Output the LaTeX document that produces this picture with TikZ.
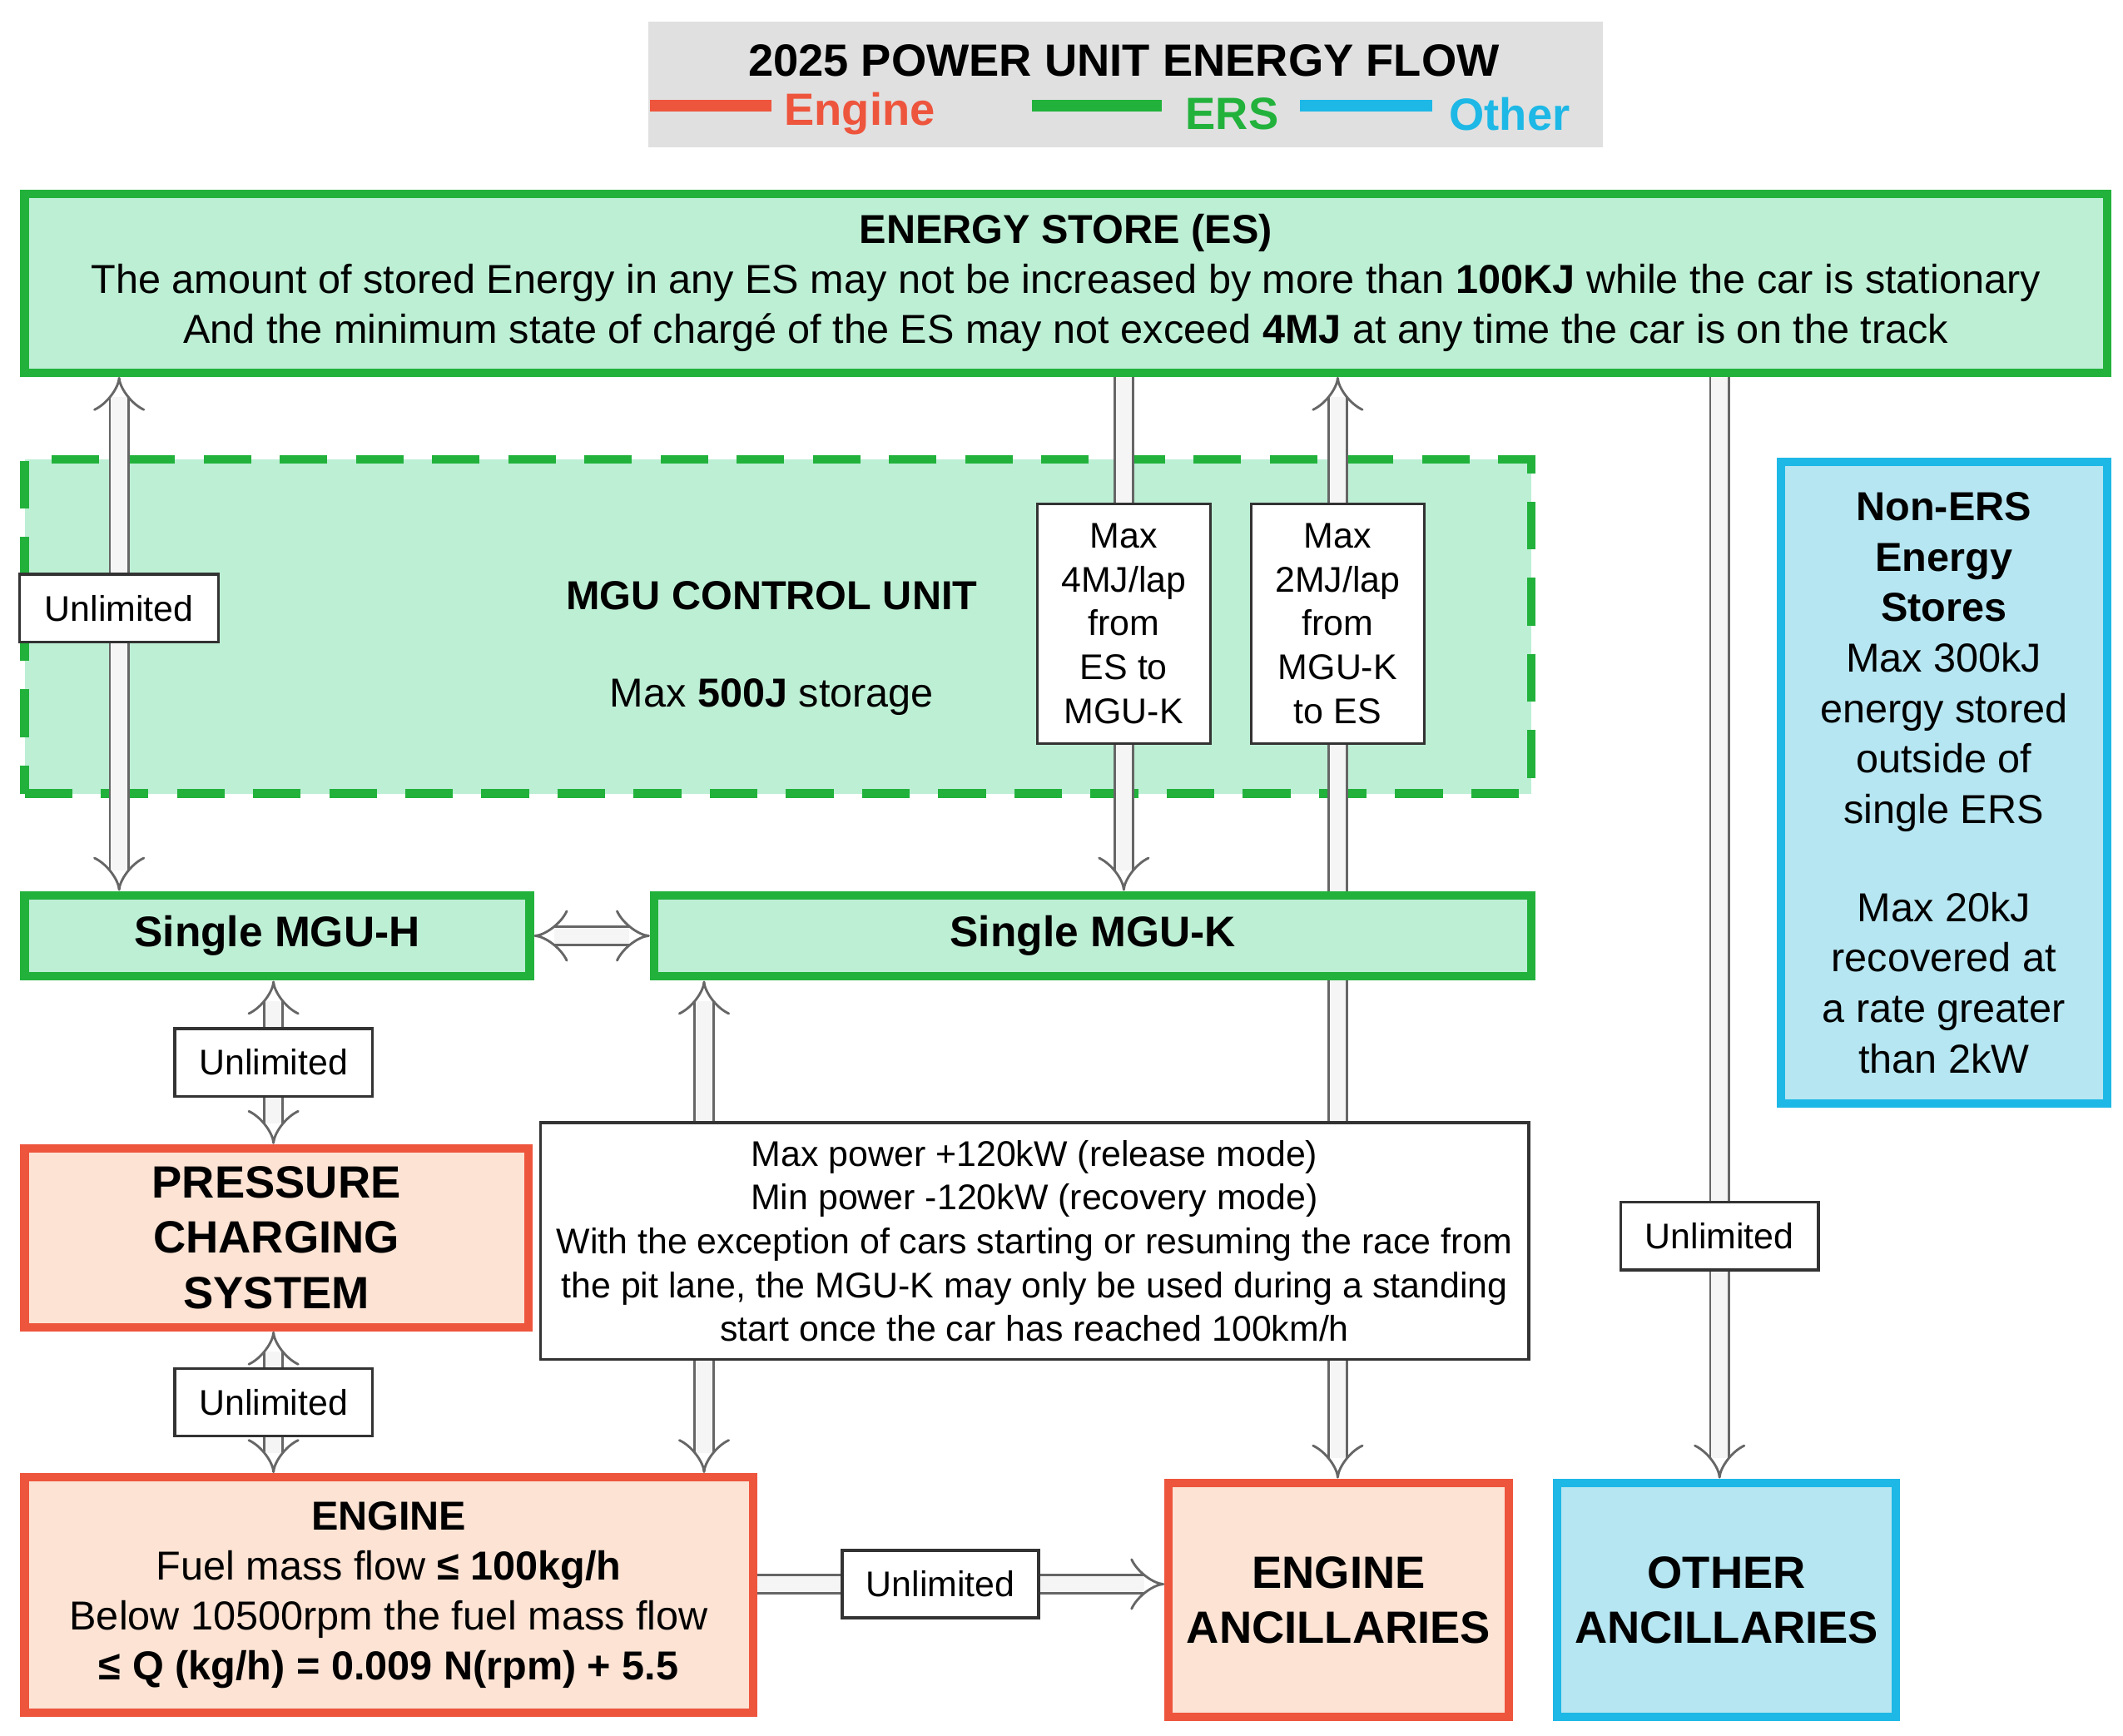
\documentclass[tikz,border=0pt]{standalone}
\usepackage{fontspec}
\setmainfont{Liberation Sans}
\usetikzlibrary{arrows.meta,positioning}
\definecolor{ersgreen}{HTML}{22B23C}
\definecolor{ersfill}{HTML}{BDEFD5}
\definecolor{engred}{HTML}{EE553D}
\definecolor{engfill}{HTML}{FCE3D4}
\definecolor{othcyan}{HTML}{1DB8E6}
\definecolor{othfill}{HTML}{B6E6F1}

\begin{document}
\begin{tikzpicture}[
  x=1cm,y=1cm,
  every node/.style={inner sep=2pt,align=center,font=\fontsize{8.5}{10.5}\selectfont},
  ers/.style={draw=ersgreen,line width=1.8pt,fill=ersfill,anchor=north west},
  eng/.style={draw=engred,line width=1.8pt,fill=engfill,anchor=north west},
  oth/.style={draw=othcyan,line width=1.8pt,fill=othfill,anchor=north west},
  lbl/.style={draw=black!80,fill=white,line width=0.6pt,font=\fontsize{7.5}{9.2}\selectfont},
  flow/.style={line width=0.5pt,draw=black!60,double=black!4,double distance=0.12cm,-{Implies}},
  flow2/.style={flow,{Implies}-{Implies}},
  ]
  \useasboundingbox (0,0) rectangle (15.68,-12.82);
  % legend
  \node[fill=black!12,minimum width=7.05cm,minimum height=0.93cm,anchor=north west] (legend) at (4.78,-0.15) {};
  \node[font=\bfseries\fontsize{9.5}{11}\selectfont] (ttl) at (8.30,-0.45) {2025 POWER UNIT ENERGY FLOW};
  \draw[engred,line width=2.5pt] (4.80,-0.78) -- (5.70,-0.78);
  \node[text=engred,font=\bfseries\fontsize{9.5}{11}\selectfont] (lengine) at (6.35,-0.84) {Engine};
  \draw[ersgreen,line width=2.5pt] (7.62,-0.78) -- (8.58,-0.78);
  \node[text=ersgreen,font=\bfseries\fontsize{9.5}{11}\selectfont] (lers) at (9.10,-0.84) {ERS};
  \draw[othcyan,line width=2.5pt] (9.60,-0.78) -- (10.58,-0.78);
  \node[text=othcyan,font=\bfseries\fontsize{9.5}{11}\selectfont] (lother) at (11.15,-0.84) {Other};

  % boxes
  \node[ers,minimum width=15.38cm,minimum height=1.32cm] (es) at (0.15,-1.40) {};
  \node (estext) at (es.center) {\textbf{ENERGY STORE (ES)}\\
    The amount of stored Energy in any ES may not be increased by more than \textbf{100KJ} while the car is stationary\\
    And the minimum state of chargé of the ES may not exceed \textbf{4MJ} at any time the car is on the track};
  \node[ers,draw=ersgreen,dashed,dash pattern=on 10pt off 6pt,minimum width=11.13cm,minimum height=2.47cm] (mcu) at (0.15,-3.36) {};
  \node (mcutitle) at (5.70,-4.40) {\textbf{MGU CONTROL UNIT}};
  \node (mcustore) at (5.70,-5.15) {Max \textbf{500J} storage};
  \node[oth,minimum width=2.41cm,minimum height=4.74cm] (nonERS) at (13.12,-3.38) {};
  \node[font=\fontsize{8.5}{10.6}\selectfont] (nonERStext) at (nonERS.center) {\textbf{Non-ERS}\\\textbf{Energy}\\\textbf{Stores}\\Max 300kJ\\energy stored\\outside of\\single ERS\\[10pt]Max 20kJ\\recovered at\\a rate greater\\than 2kW};
  \node[ers,minimum width=3.73cm,minimum height=0.60cm,font=\bfseries\fontsize{9}{11}\selectfont] (mguh) at (0.15,-6.58) {Single MGU-H};
  \node[ers,minimum width=6.48cm,minimum height=0.60cm,font=\bfseries\fontsize{9}{11}\selectfont] (mguk) at (4.80,-6.58) {Single MGU-K};
  \node[eng,minimum width=3.72cm,minimum height=1.32cm,font=\bfseries\fontsize{9.5}{11.6}\selectfont] (pcs) at (0.15,-8.45) {PRESSURE\\CHARGING\\SYSTEM};
  \node[eng,minimum width=5.38cm,minimum height=1.74cm] (engine) at (0.15,-10.88) {};
  \node (enginetext) at (engine.center) {\textbf{ENGINE}\\Fuel mass flow \textbf{≤ 100kg/h}\\Below 10500rpm the fuel mass flow\\\textbf{≤ Q (kg/h) = 0.009 N(rpm) + 5.5}};
  \node[eng,minimum width=2.51cm,minimum height=1.73cm,font=\bfseries\fontsize{9.5}{11.6}\selectfont] (engAnc) at (8.60,-10.92) {ENGINE\\ANCILLARIES};
  \node[oth,minimum width=2.50cm,minimum height=1.73cm,font=\bfseries\fontsize{9.5}{11.6}\selectfont] (othAnc) at (11.47,-10.92) {OTHER\\ANCILLARIES};

  % flows
  \draw[flow2] (0.88,0 |- es.south) -- node[lbl,pos=0.45,minimum width=1.47cm,minimum height=0.50cm] (l1) {Unlimited} (0.88,0 |- mguh.north);
  \draw[flow] (8.30,0 |- es.south) -- node[lbl,pos=0.48,minimum width=1.28cm,minimum height=1.77cm] (l2) {Max\\4MJ/lap\\from\\ES to\\MGU-K} (8.30,0 |- mguk.north);
  \draw[flow] (9.88,0 |- mguk.north) -- node[lbl,pos=0.52,minimum width=1.28cm,minimum height=1.77cm] (l3) {Max\\2MJ/lap\\from\\MGU-K\\to ES} (9.88,0 |- es.south);
  \draw[flow] (12.70,0 |- es.south) -- node[lbl,pos=0.78,minimum width=1.46cm,minimum height=0.50cm] (l4) {Unlimited} (12.70,0 |- othAnc.north);
  \draw[flow2] (mguh.east) -- (mguk.west);
  \draw[flow2] (2.02,0 |- mguh.south) -- node[lbl,minimum width=1.46cm,minimum height=0.50cm] (l5) {Unlimited} (2.02,0 |- pcs.north);
  \draw[flow2] (2.02,0 |- pcs.south) -- node[lbl,minimum width=1.46cm,minimum height=0.50cm] (l6) {Unlimited} (2.02,0 |- engine.north);
  \draw[flow2] (5.20,0 |- mguk.south) -- (5.20,0 |- engine.north);
  \draw[flow] (9.88,0 |- mguk.south) -- (9.88,0 |- engAnc.north);
  \node[lbl,minimum width=7.30cm,minimum height=1.75cm,anchor=north west] (mgukrule) at (3.98,-8.28) {Max power +120kW (release mode)\\Min power -120kW (recovery mode)\\With the exception of cars starting or resuming the race from\\the pit lane, the MGU-K may only be used during a standing\\start once the car has reached 100km/h};
  \draw[flow] (engine.east |- 0,-11.70) -- node[lbl,pos=0.45,minimum width=1.45cm,minimum height=0.50cm] (l7) {Unlimited} (engAnc.west |- 0,-11.70);
\end{tikzpicture}
\end{document}
